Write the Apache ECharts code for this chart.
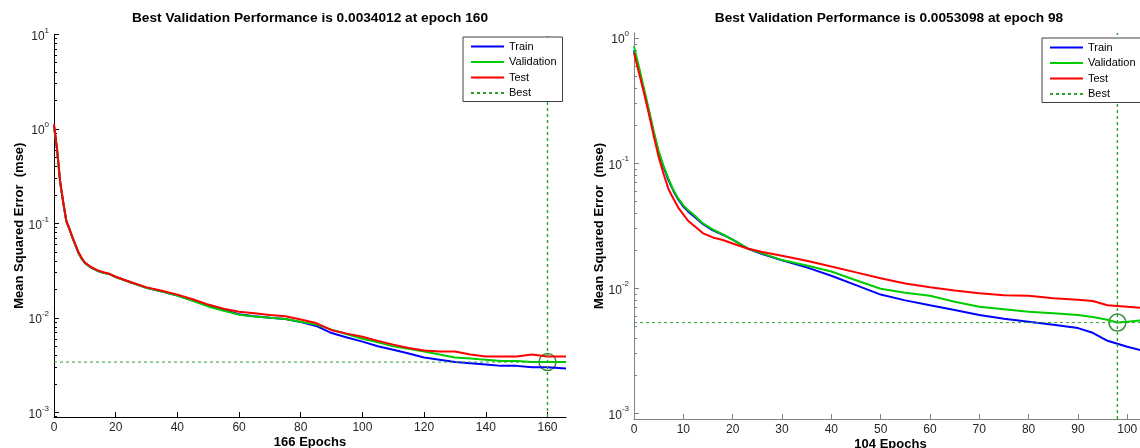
<!DOCTYPE html>
<html>
<head>
<meta charset="utf-8">
<script src="https://cdn.jsdelivr.net/npm/echarts@6/dist/echarts.min.js"></script>
<style>
html, body { margin: 0; padding: 0; background: #fff; }
#chart { width: 1140px; height: 448px; }
</style>
</head>
<body>
<div id="chart"></div>
<script>
// left run: 166 epochs
const leftEpochs = [0,1,2,3,4,5,6,7,8,9,10,12,14,16,18,20,25,30,35,40,45,50,55,60,65,70,75,80,85,90,95,100,105,110,115,120,125,130,135,140,145,150,155,160,166];
const leftTrain = [1.08,0.60,0.27,0.165,0.105,0.087,0.070,0.058,0.048,0.042,0.038,0.034,0.0315,0.030,0.029,0.027,0.0236,0.0208,0.019,0.0172,0.0152,0.0134,0.0121,0.0109,0.0104,0.0100,0.0097,0.0090,0.0082,0.0069,0.0062,0.0056,0.0050,0.0046,0.0042,0.0038,0.0036,0.0034,0.0033,0.0032,0.0031,0.0031,0.0030,0.0030,0.0029];
const leftValidation = [1.05,0.59,0.27,0.165,0.105,0.087,0.070,0.058,0.048,0.042,0.038,0.034,0.0315,0.030,0.029,0.027,0.0236,0.0208,0.019,0.0172,0.0151,0.0132,0.0119,0.0108,0.0103,0.0100,0.0097,0.0091,0.0085,0.0075,0.0067,0.0060,0.0055,0.0050,0.0047,0.0044,0.0041,0.0038,0.0037,0.0036,0.0035,0.0035,0.0034,0.0034012,0.0034];
const leftTest = [1.12,0.61,0.28,0.167,0.106,0.088,0.071,0.059,0.049,0.043,0.0385,0.0345,0.032,0.0303,0.0292,0.0272,0.0238,0.021,0.0193,0.0176,0.0157,0.0138,0.0125,0.0116,0.0112,0.0107,0.0104,0.0096,0.0088,0.0074,0.0068,0.0063,0.0057,0.0052,0.0048,0.0045,0.0044,0.0044,0.0041,0.0039,0.0039,0.0039,0.0041,0.0039,0.0039];
const leftBest = [160, 0.0034012];
const leftXRange = [0, 166];
const leftYRange = [0.000892, 10];

// right run: 104 epochs
const rightEpochs = [0,1,2,3,4,5,6,7,8,9,10,11,12,14,16,18,20,23,26,30,35,40,45,50,55,60,65,70,75,80,85,90,93,96,98,100,104];
const rightTrain = [0.80,0.56,0.38,0.26,0.175,0.12,0.093,0.073,0.060,0.051,0.045,0.041,0.038,0.0325,0.029,0.0268,0.0245,0.0208,0.0188,0.0167,0.0147,0.0126,0.0106,0.0089,0.0080,0.0073,0.0067,0.0061,0.0057,0.0054,0.0051,0.0048,0.0044,0.0038,0.0036,0.0034,0.0031];
const rightValidation = [0.86,0.59,0.40,0.27,0.18,0.125,0.095,0.075,0.061,0.052,0.046,0.042,0.039,0.033,0.0295,0.027,0.0245,0.0208,0.019,0.0168,0.0152,0.0136,0.0116,0.0099,0.0092,0.0087,0.0078,0.0071,0.0068,0.0065,0.0063,0.0061,0.0059,0.0056,0.0053098,0.0054,0.0056];
const rightTest = [0.76,0.53,0.37,0.25,0.165,0.112,0.082,0.062,0.052,0.044,0.039,0.0345,0.032,0.0275,0.0255,0.0243,0.0228,0.0208,0.0195,0.0182,0.0166,0.0149,0.0134,0.0120,0.0109,0.0102,0.0096,0.0091,0.0088,0.0087,0.0083,0.0081,0.0079,0.0073,0.0072,0.0071,0.0069];
const rightBest = [98, 0.0053098];
const rightXRange = [0, 104];
const rightYRange = [0.0009, 1.1];

const leftXTicks = [0,20,40,60,80,100,120,140,160];
const rightXTicks = [0,10,20,30,40,50,60,70,80,90,100];
const yDecades = [0.001, 0.01, 0.1, 1, 10];
const legendNames = ['Train', 'Validation', 'Test', 'Best'];

const font = '"Liberation Sans", Arial, sans-serif';
const bestColor = '#2e9e2e';

const pairs = (xs, ys) => xs.map((x, i) => [x, ys[i]]);

function minorValues(min, max) {
	let out = [];
	for (let d = -4; d <= 1; d++) {
		for (let m = 2; m <= 9; m++) {
			let v = m * Math.pow(10, d);
			if (v > min && v < max) out.push(v);
		}
	}
	return out;
}

function makeX(gridIndex, range, ticks, color) {
	return {
		type: 'value',
		gridIndex: gridIndex,
		min: range[0],
		max: range[1],
		name: range[1] + ' Epochs',
		nameLocation: 'middle',
		nameGap: 19,
		nameMoveOverlap: false,
		nameTextStyle: { fontSize: 13, fontWeight: 'bold', color: '#000', fontFamily: font },
		axisLine: { show: true, lineStyle: { color: color, width: 1 } },
		axisTick: { show: true, inside: true, length: 5, customValues: ticks, lineStyle: { color: color } },
		axisLabel: { customValues: ticks, margin: 5, fontSize: 12, color: '#262626', fontFamily: font },
		splitLine: { show: false }
	};
}

function makeY(gridIndex, range, color) {
	return [{
		type: 'log',
		logBase: 10,
		gridIndex: gridIndex,
		position: 'left',
		min: range[0],
		max: range[1],
		name: 'Mean Squared Error  (mse)',
		nameLocation: 'middle',
		nameRotate: 90,
		nameGap: 28,
		nameMoveOverlap: false,
		nameTextStyle: { fontSize: 13, fontWeight: 'bold', color: '#000', fontFamily: font },
		axisLine: { show: true, lineStyle: { color: color, width: 1 } },
		axisTick: { show: true, inside: true, length: 5, customValues: yDecades, lineStyle: { color: color } },
		axisLabel: {
			customValues: yDecades,
			margin: 5,
			color: '#262626',
			fontFamily: font,
			formatter: function(v) {
				return '{b|10}{s|' + Math.round(Math.log10(v)) + '}';
			},
			rich: {
				b: { fontSize: 12, lineHeight: 16, verticalAlign: 'bottom', color: '#262626', fontFamily: font },
				s: { fontSize: 8, lineHeight: 16, verticalAlign: 'top', color: '#262626', fontFamily: font }
			}
		},
		splitLine: { show: false }
	}, {
		type: 'log',
		logBase: 10,
		gridIndex: gridIndex,
		position: 'left',
		min: range[0],
		max: range[1],
		axisLine: { show: false },
		axisTick: { show: true, inside: true, length: 3, customValues: minorValues(range[0], range[1]), lineStyle: { color: color } },
		axisLabel: { show: false },
		splitLine: { show: false }
	}];
}

function makeSeries(xi, yi, epochs, train, val, test, best, xRange, yRange) {
	let line = (name, data, color) => ({
		name: name,
		type: 'line',
		xAxisIndex: xi,
		yAxisIndex: yi,
		data: pairs(epochs, data),
		symbol: 'none',
		silent: true,
		lineStyle: { color: color, width: 2 },
		itemStyle: { color: color }
	});
	let dashed = (data, width) => ({
		name: 'Best',
		type: 'line',
		xAxisIndex: xi,
		yAxisIndex: yi,
		data: data,
		symbol: 'none',
		silent: true,
		lineStyle: { color: bestColor, width: width, type: [3, 3] },
		itemStyle: { color: bestColor }
	});
	return [
		line('Train', train, '#0000ff'),
		line('Validation', val, '#00cc00'),
		line('Test', test, '#ff0000'),
		dashed([[xRange[0], best[1]], [xRange[1], best[1]]], 1),
		dashed([[best[0], yRange[0]], [best[0], yRange[1]]], 1.4),
		{
			type: 'scatter',
			xAxisIndex: xi,
			yAxisIndex: yi,
			data: [best],
			symbol: 'circle',
			symbolSize: 17,
			silent: true,
			itemStyle: { color: 'rgba(0,0,0,0)', borderColor: '#0d6e0d', borderWidth: 1.5 }
		}
	];
}

function makeLegend(left, top) {
	return {
		data: legendNames,
		orient: 'vertical',
		left: left,
		top: top,
		itemWidth: 33,
		itemHeight: 12,
		itemGap: 4.5,
		padding: [4, 6, 3, 7],
		borderColor: '#404040',
		borderWidth: 1,
		backgroundColor: '#fff',
		selectedMode: false,
		itemStyle: { opacity: 0 },
		textStyle: { fontSize: 11, color: '#000', fontFamily: font }
	};
}

let chart = echarts.init(document.getElementById('chart'));
let option = {
	animation: false,
	backgroundColor: '#fff',
	title: [{
		text: 'Best Validation Performance is ' + leftBest[1] + ' at epoch ' + leftBest[0],
		left: 305,
		top: 6,
		textAlign: 'center',
		textStyle: { fontSize: 13.7, fontWeight: 'bold', color: '#000', fontFamily: font }
	}, {
		text: 'Best Validation Performance is ' + rightBest[1] + ' at epoch ' + rightBest[0],
		left: 884,
		top: 6,
		textAlign: 'center',
		textStyle: { fontSize: 13.7, fontWeight: 'bold', color: '#000', fontFamily: font }
	}],
	legend: [makeLegend(463, 37), makeLegend(1042, 38)],
	grid: [
		{ left: 54, top: 34.3, width: 512, height: 382.7, outerBoundsMode: 'none', containLabel: false },
		{ left: 634, top: 33, width: 513, height: 386, outerBoundsMode: 'none', containLabel: false }
	],
	xAxis: [makeX(0, leftXRange, leftXTicks, '#000'), makeX(1, rightXRange, rightXTicks, '#7f7f7f')],
	yAxis: makeY(0, leftYRange, '#000').concat(makeY(1, rightYRange, '#7f7f7f')),
	series: makeSeries(0, 0, leftEpochs, leftTrain, leftValidation, leftTest, leftBest, leftXRange, leftYRange)
		.concat(makeSeries(1, 2, rightEpochs, rightTrain, rightValidation, rightTest, rightBest, rightXRange, rightYRange))
};
chart.setOption(option);
</script>
</body>
</html>
